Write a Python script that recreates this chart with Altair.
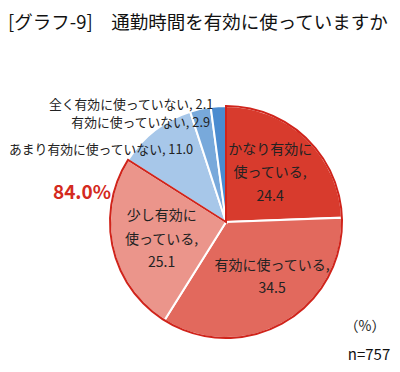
import math
import altair as alt
import pandas as pd

# ---- data ----
categories = ["かなり有効に使っている", "有効に使っている", "少し有効に使っている",
              "あまり有効に使っていない", "有効に使っていない", "全く有効に使っていない"]
values = [24.4, 34.5, 25.1, 11.0, 2.9, 2.1]
label_text = ["かなり有効に\n使っている,", "有効に使っている,", "少し有効に\n使っている,",
              "あまり有効に使っていない,", "有効に使っていない,", "全く有効に使っていない,"]
colors = ["#D83B2D", "#E2695D", "#EB958B", "#A7C7E9", "#78A9DB", "#4B8CD0"]
title_text = "[グラフ-9]　通勤時間を有効に使っていますか"
unit_text = "（%）"
n_text = "n=757"

df = pd.DataFrame({"idx": list(range(len(categories))), "cat": categories,
                   "val": values, "lab": label_text})

FONT = "Noto Sans CJK JP"
CX, CY, R = 218, 214, 116
LH = 23.5
theta_scale = alt.Scale(domain=[0, 100], range=[0, 2 * math.pi])

base = alt.Chart(df).transform_window(
    cum="sum(val)", sort=[{"field": "idx"}], frame=[None, 0]
).transform_calculate(
    start="datum.cum - datum.val",
    mid="datum.cum - datum.val / 2",
    inside='datum.lab + "\\n" + format(datum.val, ".1f")',
    outside='datum.lab + " " + format(datum.val, ".1f")',
)

arcs = base.mark_arc(outerRadius=R, stroke="white", strokeWidth=2).encode(
    theta=alt.Theta("start:Q", scale=theta_scale),
    theta2="cum:Q",
    color=alt.Color("cat:N", scale=alt.Scale(domain=categories, range=colors), legend=None),
    x=alt.value(CX), y=alt.value(CY),
)

outline = alt.Chart(df).transform_filter("datum.idx < 3").transform_aggregate(
    total="sum(val)"
).transform_calculate(zero="0").mark_arc(
    outerRadius=R, fillOpacity=0, stroke="#D0241B", strokeWidth=2
).encode(
    theta=alt.Theta("zero:Q", scale=theta_scale),
    theta2="total:Q",
    x=alt.value(CX), y=alt.value(CY),
)

def inside_label(i, r, lines, dx=0, dy=0):
    return base.transform_filter(f"datum.idx == {i}").mark_text(
        radius=r, dx=dx, dy=dy - (lines - 1) * LH / 2, font=FONT, fontSize=14,
        lineHeight=LH, lineBreak="\n", align="center", baseline="middle",
        color="#222222"
    ).encode(
        theta=alt.Theta("mid:Q", scale=theta_scale),
        text="inside:N", x=alt.value(CX), y=alt.value(CY),
    )

def outside_label(i, r, dx=0, dy=0):
    return base.transform_filter(f"datum.idx == {i}").mark_text(
        radius=r, dx=dx, dy=dy, font=FONT, fontSize=12.8,
        align="right", baseline="middle", color="#222222"
    ).encode(
        theta=alt.Theta("mid:Q", scale=theta_scale),
        text="outside:N", x=alt.value(CX), y=alt.value(CY),
    )

labels = [
    inside_label(0, 68, 3, dx=-3),
    inside_label(1, 64, 2, dx=14),
    inside_label(2, 66, 3, dy=3),
    outside_label(3, 91, dx=23),
    outside_label(4, 101.5, dx=6.5),
    outside_label(5, 117, dx=-5),
]

pct = alt.Chart(df).transform_filter("datum.idx < 3").transform_aggregate(
    total="sum(val)"
).transform_calculate(t='format(datum.total, ".1f") + "%"').mark_text(
    font=FONT, fontSize=19, fontWeight="bold", color="#D42A1E",
    align="center", baseline="middle"
).encode(text="t:N", x=alt.value(74), y=alt.value(185))

title = alt.Chart(pd.DataFrame({"t": [title_text]})).mark_text(
    font=FONT, fontSize=18.5, align="left", baseline="alphabetic", color="#111111"
).encode(text="t:N", x=alt.value(0), y=alt.value(21))

unit = alt.Chart(pd.DataFrame({"t": [unit_text]})).mark_text(
    font=FONT, fontSize=14, align="center", baseline="middle", color="#222222"
).encode(text="t:N", x=alt.value(357), y=alt.value(319))

nlab = alt.Chart(pd.DataFrame({"t": [n_text]})).mark_text(
    font=FONT, fontSize=15, align="center", baseline="middle", color="#111111"
).encode(text="t:N", x=alt.value(361), y=alt.value(347))

chart = alt.layer(arcs, outline, *labels, pct, title, unit, nlab).properties(
    width=384, height=356, autosize=alt.AutoSizeParams(type="none"), padding=0
).configure_view(stroke=None)

chart.save("out.html", embed_options={"renderer": "svg", "actions": False})
